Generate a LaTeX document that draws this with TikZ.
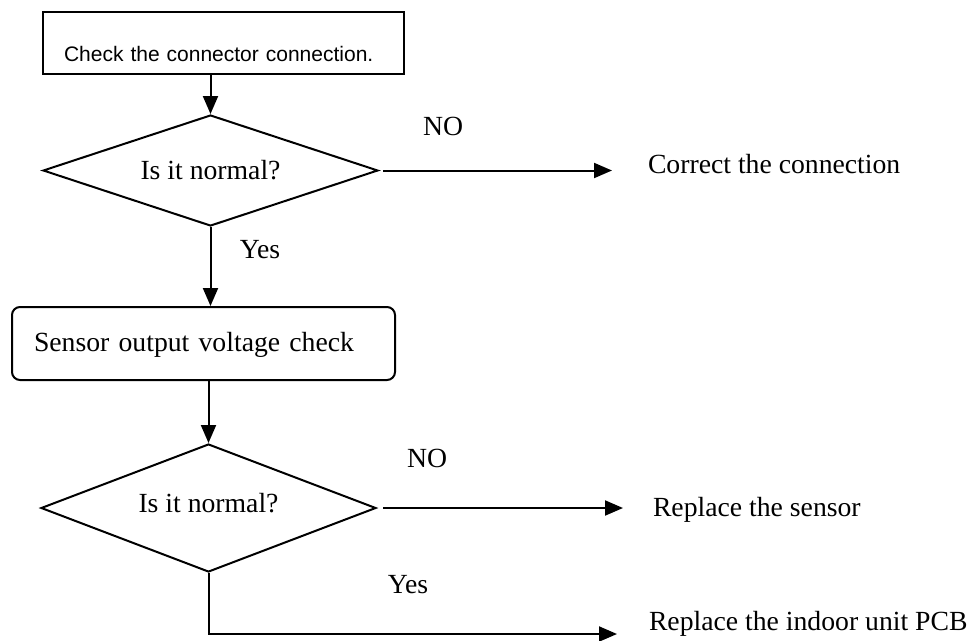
\documentclass[tikz,border=0pt]{standalone}
\usepackage{fontspec}
\setmainfont{Liberation Serif}
\newfontfamily\sansf{Liberation Sans}
\usetikzlibrary{arrows.meta,shapes.geometric}
\begin{document}
\begin{tikzpicture}[x=1pt,y=-1pt,line width=2pt,
  serif/.style={font=\fontsize{27.7pt}{30pt}\selectfont},
  lbl/.style={serif,inner sep=0pt},
  arr/.style={-{Triangle[length=18pt,width=15pt]}},
  dec/.style={draw,diamond,aspect=3,serif,inner sep=0pt,minimum width=335pt,minimum height=111pt},
  boxa/.style={draw,rectangle,anchor=north west,inner ysep=0pt,align=left}]
\useasboundingbox (0,0) rectangle (973,640);
% boxes
\node[boxa,font=\sansf\fontsize{21pt}{24pt}\selectfont,inner xsep=21pt,text width=319pt,text height=49pt,text depth=13pt] (b1) at (42,11) {Check the connector connection.};
\node[dec] (d1) at (210.5,170.5) {Is it normal?};
\node[boxa,serif,rounded corners=8pt,inner xsep=22pt,text width=339pt,text height=44pt,text depth=29pt] (b2) at (11,306) {Sensor output voltage check};
\node[dec,minimum height=128pt,text depth=11pt] (d2) at (208.5,508) {Is it normal?};
% outcome texts
\node[lbl,anchor=base west] (c1) at (647,173) {Correct the connection};
\node[lbl,anchor=base west] (r2) at (652,516) {Replace the sensor};
\node[lbl,anchor=base west] (r3) at (648,630) {Replace the indoor unit PCB};
% labels
\node[lbl,anchor=base] (no1) at (443,135) {NO};
\node[lbl,anchor=base] (yes1) at (260,258) {Yes};
\node[lbl,anchor=base] (no2) at (427,467) {NO};
\node[lbl,anchor=base] (yes2) at (408,593) {Yes};
% connectors
\draw[arr] (b1.south -| d1.north) -- (d1.north);
\draw[arr,shorten <=4pt,shorten >=35pt] (d1.east) -- (d1.east -| c1.west);
\draw[arr] (d1.south) -- (d1.south |- b2.north);
\draw[arr] (b2.south -| d2.north) -- (d2.north);
\draw[arr,shorten <=6pt,shorten >=29pt] (d2.east) -- (d2.east -| r2.west);
\coordinate (e3) at ([xshift=-31pt,yshift=-4pt]r3.base west);
\draw[arr] (d2.south) |- (e3);
\end{tikzpicture}
\end{document}
